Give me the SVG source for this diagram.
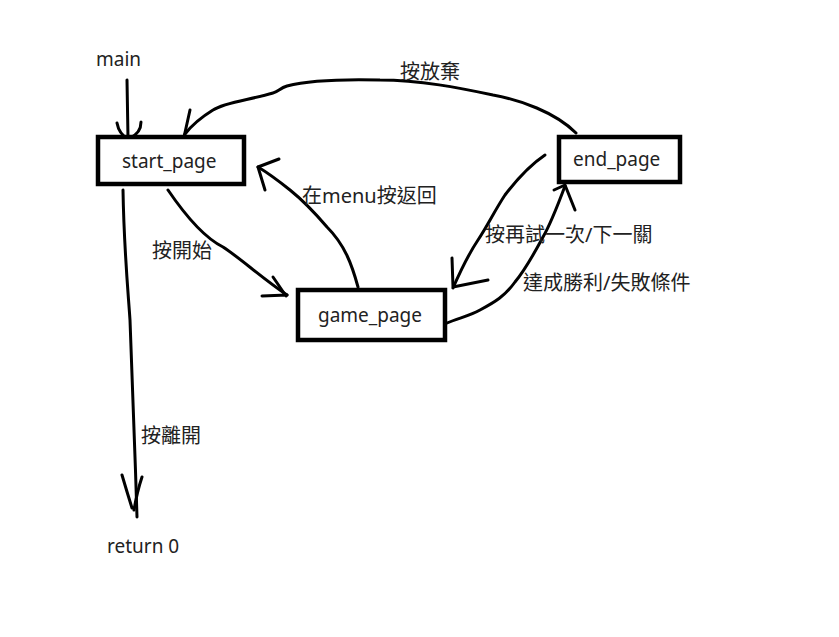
<svg xmlns="http://www.w3.org/2000/svg" width="839" height="637" viewBox="0 0 839 637">
<style>
.box{fill:#fff;stroke:#000;stroke-width:4.5}
.t{font-family:"Noto Sans","Noto Sans CJK TC",sans-serif;font-size:19px;fill:#222}
.l{font-size:20px}
.c{fill:none;stroke:#000;stroke-width:3;stroke-linecap:round;stroke-linejoin:round}
</style>
<rect width="839" height="637" fill="#fff"/>
<g id="connectors">
<path class="c" d="M127,80 L128,138"/>
<path class="c" d="M117,123 Q119,134 128,139 M141,122 Q141,133 130,138"/>
<path class="c" d="M576,133 C555,112 520,100 493,95 C460,88 420,80 380,80 C340,79 310,80 287,86 C280,88 278,92 273,93 C250,100 225,102 213,110 C200,118 192,125 185,134"/>
<path class="c" d="M190,110 L184,137"/>
<path class="c" d="M123,190 C124,250 128,290 130,320 C132,380 135,450 137,517"/>
<path class="c" d="M122,475 Q127,492 132,508 M142,477 Q137,492 134,510"/>
<path class="c" d="M168,190 C185,215 205,238 223,247 C240,258 262,278 287,295"/>
<path class="c" d="M262,296 L287,295 M273,277 L286,296"/>
<path class="c" d="M358,287 C352,265 345,245 327,227 C315,213 300,198 290,190 C280,182 268,173 258,167"/>
<path class="c" d="M258,167 L279,159 M258,167 L265,190"/>
<path class="c" d="M545,155 C530,165 518,178 505,195 C495,210 488,225 478,240 C468,255 460,272 453,288"/>
<path class="c" d="M452,258 L453,287 L488,280"/>
<path class="c" d="M447,323 C458,318 470,316 480,310 C495,302 505,296 515,282 C525,270 535,252 543,237 C550,225 556,210 565,186"/>
<path class="c" d="M554,190 L565,185 L575,210"/>
</g>
<g id="start_page"><rect class="box" x="98" y="137" width="146" height="47"/><text class="t" x="122" y="168" font-size="20">start_page</text></g>
<g id="end_page"><rect class="box" x="559" y="137" width="121" height="45"/><text class="t" x="573" y="166" font-size="20">end_page</text></g>
<g id="game_page"><rect class="box" x="298" y="290" width="147" height="50"/><text class="t" x="318" y="322" font-size="20">game_page</text></g>
<g id="labels">
<text class="t" x="96" y="66">main</text>
<text class="t" x="107" y="553">return 0</text>
<text class="t l" x="400" y="79">按放棄</text>
<text class="t l" x="152" y="258">按開始</text>
<text class="t l" x="302" y="203">在menu按返回</text>
<text class="t l" x="485" y="242">按再試一次/下一關</text>
<text class="t l" x="523" y="290">達成勝利/失敗條件</text>
<text class="t l" x="141" y="443">按離開</text>
</g>
</svg>
